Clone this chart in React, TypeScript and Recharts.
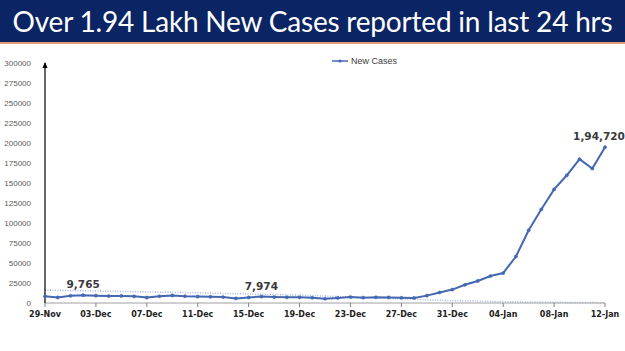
import React from 'react';
import { LineChart, Line, XAxis, YAxis, Legend, ReferenceDot, LabelList } from 'recharts';

const title = 'Over 1.94 Lakh New Cases reported in last 24 hrs';
const seriesName = 'New Cases';

const dates = [
  '29-Nov', '30-Nov',
  '01-Dec', '02-Dec', '03-Dec', '04-Dec', '05-Dec', '06-Dec', '07-Dec', '08-Dec', '09-Dec', '10-Dec',
  '11-Dec', '12-Dec', '13-Dec', '14-Dec', '15-Dec', '16-Dec', '17-Dec', '18-Dec', '19-Dec', '20-Dec',
  '21-Dec', '22-Dec', '23-Dec', '24-Dec', '25-Dec', '26-Dec', '27-Dec', '28-Dec', '29-Dec', '30-Dec', '31-Dec',
  '01-Jan', '02-Jan', '03-Jan', '04-Jan', '05-Jan', '06-Jan', '07-Jan', '08-Jan', '09-Jan', '10-Jan', '11-Jan', '12-Jan',
];

const newCases = [
  8309, 6990,
  8954, 9765, 9216, 8603, 8895, 8306, 6822, 8439, 9419, 8503,
  7992, 7774, 7350, 5784, 6984, 7974, 7447, 7145, 7081, 6563,
  5326, 6317, 7495, 6650, 7189, 6987, 6531, 6358, 9195, 13154, 16764,
  22775, 27553, 33750, 37379, 58097, 90928, 117100, 141986, 159632, 179723, 168063, 194720,
];

const trendValues: (number | null)[] = [
  16200, null, null, null, 15000, null, null, null, 13900, null, null, null,
  12700, null, null, null, 11300, null, null, null, 9700, null, null, null,
  7600, null, null, null, 5000, null, null, null, 2900, null, null, null,
  1700, null, null, null, 900, null, null, null, 400,
];

const yTicks = [0, 25000, 50000, 75000, 100000, 125000, 150000, 175000, 200000, 225000, 250000, 275000, 300000];
const labelledDates = ['02-Dec', '16-Dec', '12-Jan'];

const indianFormat = (n: number): string => {
  const s = String(Math.round(n));
  if (s.length <= 3) return s;
  const last3 = s.slice(-3);
  let rest = s.slice(0, -3);
  const parts: string[] = [];
  while (rest.length > 2) {
    parts.unshift(rest.slice(-2));
    rest = rest.slice(0, -2);
  }
  if (rest.length) parts.unshift(rest);
  return parts.join(',') + ',' + last3;
};

const data = dates.map((d, i) => ({
  date: d,
  cases: newCases[i],
  trend: trendValues[i],
  label: labelledDates.includes(d) ? indianFormat(newCases[i]) : '',
}));

const LINE_COLOR = '#4468b0';

const renderLabel = (props: any) => {
  const { x, y, value } = props;
  if (!value) return null;
  const cx = Math.min(Number(x), 599);
  return (
    <text
      x={cx}
      y={Number(y) - 7}
      textAnchor="middle"
      fontFamily="DejaVu Sans"
      fontWeight="bold"
      fontSize={10.5}
      fill="#3a3a3a"
    >
      {value}
    </text>
  );
};

const renderLegend = () => (
  <div style={{ display: 'flex', alignItems: 'center', fontFamily: 'Liberation Sans', fontSize: 9, color: '#404040' }}>
    <svg width={18} height={8} style={{ marginRight: 2 }}>
      <line x1={1} y1={4} x2={17} y2={4} stroke={LINE_COLOR} strokeWidth={1.5} />
      <circle cx={9} cy={4} r={1.6} fill={LINE_COLOR} />
    </svg>
    <span>{seriesName}</span>
  </div>
);

const ArrowHead = (p: any) => {
  const { cx, cy } = p;
  return <path d={`M${cx - 2.5},${cy + 5} L${cx},${cy - 1} L${cx + 2.5},${cy + 5} Z`} fill="#000" />;
};

export default function App() {
  return (
    <div style={{ position: 'absolute', left: 0, top: 0, width: 625, height: 351, background: '#fff', overflow: 'hidden' }}>
      <LineChart
        width={625}
        height={351}
        data={data}
        margin={{ top: 63, right: 20, left: 0, bottom: 18 }}
      >
        <XAxis
          dataKey="date"
          interval={3}
          padding={{ left: 0, right: 0 }}
          height={30}
          tickSize={4}
          tickMargin={4}
          axisLine={{ stroke: '#a0a0a0' }}
          tickLine={{ stroke: '#808080' }}
          tick={{ fontSize: 8, fontWeight: 'bold', fill: '#222', fontFamily: 'DejaVu Sans' }}
        />
        <YAxis
          domain={[0, 300000]}
          ticks={yTicks}
          interval={0}
          width={45}
          tickLine={false}
          tickMargin={8}
          axisLine={{ stroke: '#000', strokeWidth: 1.2 }}
          tick={{ fontSize: 8, fill: '#595959', fontFamily: 'Liberation Sans' }}
        />
        <Legend
          layout="horizontal"
          verticalAlign="middle"
          align="center"
          content={renderLegend}
          wrapperStyle={{ position: 'absolute', top: 56, left: 331, width: 'auto' }}
        />
        <Line
          dataKey="trend"
          connectNulls
          stroke="#a8b8de"
          strokeWidth={1.5}
          strokeDasharray="1 1.5"
          dot={false}
          activeDot={false}
          legendType="none"
          isAnimationActive={false}
        />
        <Line
          dataKey="cases"
          name={seriesName}
          stroke={LINE_COLOR}
          strokeWidth={2}
          dot={{ r: 1.6, fill: LINE_COLOR, stroke: LINE_COLOR, strokeWidth: 0.5 }}
          isAnimationActive={false}
        >
          <LabelList dataKey="label" content={renderLabel} />
        </Line>
        <ReferenceDot x="29-Nov" y={300000} r={0} shape={ArrowHead} ifOverflow="visible" />
      </LineChart>
      <div
        style={{
          position: 'absolute',
          left: 0,
          top: 0,
          width: 625,
          height: 42,
          background: '#0b2463',
          color: '#fff',
          fontFamily: 'Lato',
          fontSize: 28,
          lineHeight: '42px',
          textAlign: 'center',
          whiteSpace: 'nowrap',
          letterSpacing: -0.2,
        }}
      >
        {title}
      </div>
      <div style={{ position: 'absolute', left: 0, top: 42, width: 625, height: 2, background: '#e39a74' }} />
    </div>
  );
}
